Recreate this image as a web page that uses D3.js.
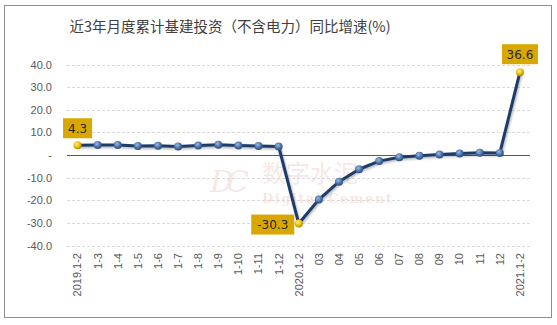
<!DOCTYPE html>
<html><head><meta charset="utf-8">
<script src="https://cdn.jsdelivr.net/npm/d3@7"></script>
<style>body{margin:0;background:#fff}svg{display:block}</style>
</head><body>
<script>
const categories = ["2019.1-2","1-3","1-4","1-5","1-6","1-7","1-8","1-9","1-10","1-11","1-12",
  "2020.1-2","03","04","05","06","07","08","09","10","11","12","2021.1-2"];
const values = [4.3,4.4,4.4,4.0,4.1,3.8,4.2,4.5,4.2,4.0,3.8,
  -30.3,-19.7,-11.8,-6.3,-2.7,-1.0,-0.3,0.2,0.7,1.0,0.9,36.6];
const highlighted = ["2019.1-2","2020.1-2","2021.1-2"];
const yTicks = [40,30,20,10,0,-10,-20,-30,-40];
const title = "近3年月度累计基建投资（不含电力）同比增速(%)";

const W=557,H=325;
const fmt=v=>v.toFixed(1);
const svg=d3.select("body").append("svg").attr("width",W).attr("height",H);
const defs=svg.append("defs");
const g1=defs.append("radialGradient").attr("id","mb").attr("cx","40%").attr("cy","35%").attr("r","65%");
g1.append("stop").attr("offset","0%").attr("stop-color","#9dbbe3");
g1.append("stop").attr("offset","60%").attr("stop-color","#4a72a8");
g1.append("stop").attr("offset","100%").attr("stop-color","#2c4f80");
const g2=defs.append("radialGradient").attr("id","mg").attr("cx","40%").attr("cy","35%").attr("r","65%");
g2.append("stop").attr("offset","0%").attr("stop-color","#fff2a0");
g2.append("stop").attr("offset","55%").attr("stop-color","#f0c000");
g2.append("stop").attr("offset","100%").attr("stop-color","#b08a00");
const sh=defs.append("filter").attr("id","sh").attr("x","-10%").attr("y","-10%").attr("width","130%").attr("height","130%");
sh.append("feDropShadow").attr("dx",1).attr("dy",1.5).attr("stdDeviation",1).attr("flood-color","#000").attr("flood-opacity",0.3);

svg.append("rect").attr("x",4.5).attr("y",5.5).attr("width",547).attr("height",312)
  .attr("fill","#fff").attr("stroke","#8c8c8c").attr("stroke-width",1);

svg.append("text").attr("x",230).attr("y",32).attr("text-anchor","middle")
  .attr("font-family","'Noto Sans CJK SC','Noto Sans',sans-serif").attr("font-size",14.5)
  .attr("fill","#404040").text(title);

const x=d3.scaleBand().domain(categories).range([67.5,530]);
const y=d3.scaleLinear().domain([-40,40]).range([245.5,64.5]);
const cx=d=>x(d)+x.bandwidth()/2;

// watermark
const wm=svg.append("g").attr("opacity",0.12).attr("fill","#c0392b");
wm.append("text").attr("x",210).attr("y",192).attr("font-family","'DejaVu Serif',serif").attr("font-size",30).attr("font-style","italic").attr("letter-spacing",-8).text("DC");
wm.append("text").attr("x",262).attr("y",182).attr("font-family","'Noto Sans CJK SC',sans-serif").attr("font-size",24).text("数字水泥");
wm.append("text").attr("x",262).attr("y",203).attr("font-family","'DejaVu Serif',serif").attr("font-size",13).attr("font-weight","bold").attr("letter-spacing",1.5).text("Digital Cement");

// grid
svg.append("g").selectAll("line").data(yTicks.filter(t=>t!==0)).join("line")
  .attr("x1",67).attr("x2",530).attr("y1",d=>Math.round(y(d))+0.5).attr("y2",d=>Math.round(y(d))+0.5)
  .attr("stroke","#d9d9d9").attr("stroke-dasharray","3,2").attr("stroke-width",1);
svg.append("line").attr("x1",67).attr("x2",530).attr("y1",Math.round(y(0))+0.5).attr("y2",Math.round(y(0))+0.5)
  .attr("stroke","#595959").attr("stroke-width",1);

// y axis
const ya=svg.append("g").attr("transform","translate(55,0)")
  .call(d3.axisLeft(y).tickValues(yTicks).tickSize(0).tickFormat(d=>d===0?"-":fmt(d)));
ya.select(".domain").remove();
ya.selectAll("text").attr("font-family","'Liberation Sans',Arial,sans-serif").attr("font-size",11).attr("fill","#595959").attr("dx",0);

// x axis
const xa=svg.append("g").attr("transform","translate(0,250)")
  .call(d3.axisBottom(x).tickSize(0));
xa.select(".domain").remove();
xa.selectAll("text").attr("font-family","'Liberation Sans',Arial,sans-serif").attr("font-size",11).attr("fill","#595959")
  .attr("transform","rotate(-90)").attr("text-anchor","end").attr("x",-3).attr("y",0).attr("dy","0.35em");

// line
const data=categories.map((c,i)=>({c,v:values[i]}));
svg.append("path").datum(data).attr("fill","none").attr("stroke","#1f3d6b").attr("stroke-width",3)
  .attr("stroke-linejoin","round").attr("filter","url(#sh)")
  .attr("d",d3.line().x(d=>cx(d.c)).y(d=>y(d.v)));
svg.append("g").selectAll("circle").data(data).join("circle")
  .attr("cx",d=>cx(d.c)).attr("cy",d=>y(d.v)).attr("r",4)
  .attr("fill",d=>highlighted.includes(d.c)?"url(#mg)":"url(#mb)");

// labels
const lab=[{c:"2019.1-2",dx:0,dy:-17},{c:"2020.1-2",dx:-26,dy:1},{c:"2021.1-2",dx:0,dy:-18}];
lab.forEach(l=>{
  const v=values[categories.indexOf(l.c)];
  const t=fmt(v);
  const px=cx(l.c)+l.dx, py=y(v)+l.dy;
  const w=t.length*7+8;
  svg.append("rect").attr("x",px-w/2).attr("y",py-10).attr("width",w).attr("height",20).attr("fill","#d9a800");
  svg.append("text").attr("x",px).attr("y",py).attr("dy","0.36em").attr("text-anchor","middle")
    .attr("font-family","'DejaVu Sans',sans-serif").attr("font-size",12).attr("fill","#262626").text(t);
});
</script>
</body></html>
